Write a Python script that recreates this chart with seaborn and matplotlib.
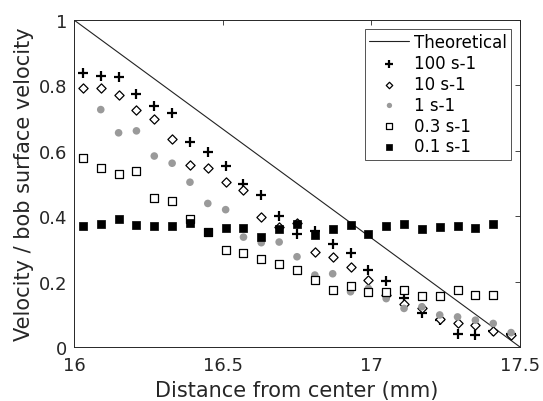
import numpy as np
import pandas as pd
import matplotlib
matplotlib.use("Agg")
import matplotlib.pyplot as plt
import seaborn as sns

nan = np.nan

# Distance from center (mm)
distance = [16.03, 16.09, 16.15, 16.21, 16.27, 16.33, 16.39, 16.45, 16.51, 16.57,
            16.63, 16.69, 16.75, 16.81, 16.87, 16.93, 16.99, 17.05, 17.11, 17.17,
            17.23, 17.29, 17.35, 17.41, 17.47]

v_100 = [0.838, 0.828, 0.825, 0.774, 0.738, 0.716, 0.628, 0.596, 0.553, 0.498,
         0.464, 0.402, 0.347, 0.355, 0.316, 0.288, 0.235, 0.201, 0.150, 0.104,
         0.082, 0.041, 0.036, 0.050, 0.040]
v_10 = [0.791, 0.791, 0.772, 0.726, 0.696, 0.637, 0.557, 0.547, 0.506, 0.479,
        0.398, 0.368, 0.378, 0.290, 0.275, 0.244, 0.206, 0.160, 0.130, 0.118,
        0.085, 0.072, 0.067, 0.048, 0.038]
v_1 = [nan, 0.726, 0.655, 0.661, 0.584, 0.562, 0.504, 0.439, 0.420, 0.336,
       0.319, 0.321, 0.276, 0.220, 0.224, 0.169, 0.179, 0.148, 0.118, 0.123,
       0.098, 0.092, 0.082, 0.072, 0.044]
v_03 = [0.578, 0.547, 0.529, 0.538, 0.455, 0.445, 0.392, 0.352, 0.298, 0.288,
        0.270, 0.253, 0.236, 0.205, 0.174, 0.186, 0.169, 0.168, 0.174, 0.157,
        0.157, 0.174, 0.159, 0.160, nan]
v_01 = [0.370, 0.377, 0.392, 0.372, 0.370, 0.370, 0.380, 0.352, 0.364, 0.364,
        0.337, 0.360, 0.375, 0.341, 0.362, 0.372, 0.347, 0.370, 0.377, 0.362,
        0.367, 0.370, 0.364, 0.375, nan]

theory_x = [16.0, 17.5]
theory_y = [1.0, 0.0]

labels = ["Theoretical", "100 s-1", "10 s-1", "1 s-1", "0.3 s-1", "0.1 s-1"]
xtick_vals = [16, 16.5, 17, 17.5]
xtick_labels = ["16", "16.5", "17", "17.5"]
ytick_vals = [0, 0.2, 0.4, 0.6, 0.8, 1]
ytick_labels = ["0", "0.2", "0.4", "0.6", "0.8", "1"]

sns.set_style("white")
plt.rcParams['font.family'] = ['DejaVu Sans']
TXT = "#262626"

fig = plt.figure(figsize=(5.43, 4.02), dpi=100)
ax = fig.add_axes([74/543, (402-348)/402, (520-74)/543, (348-21)/402])

sns.lineplot(x=theory_x, y=theory_y, ax=ax, color="#222222", linewidth=0.8,
             label=labels[0])

sns.scatterplot(x=distance, y=v_100, ax=ax, marker="+", color="black",
                s=60, linewidth=1.6, label=labels[1], zorder=3)
sns.scatterplot(x=distance, y=v_10, ax=ax, marker="D", facecolor="white",
                edgecolor="black", s=22, linewidth=0.9, label=labels[2], zorder=3)
sns.scatterplot(x=distance, y=v_1, ax=ax, marker="o", color="#9a9a9a",
                edgecolor="none", s=30, linewidth=0, label=labels[3], zorder=3)
sns.scatterplot(x=distance, y=v_03, ax=ax, marker="s", facecolor="white",
                edgecolor="black", s=30, linewidth=0.9, label=labels[4], zorder=3)
sns.scatterplot(x=distance, y=v_01, ax=ax, marker="s", color="black",
                edgecolor="black", s=30, linewidth=0.5, label=labels[5], zorder=3)

ax.set_xlim(16, 17.5)
ax.set_ylim(0, 1)
ax.set_xticks(xtick_vals)
ax.set_xticklabels(xtick_labels)
ax.set_yticks(ytick_vals)
ax.set_yticklabels(ytick_labels)
ax.tick_params(direction="in", length=3.5, width=0.6, colors=TXT,
               labelsize=13, top=True, right=True)
ax.tick_params(axis="x", pad=6.5)
ax.tick_params(axis="y", pad=5)
for sp in ax.spines.values():
    sp.set_visible(True)
    sp.set_color(TXT)
    sp.set_linewidth(0.7)

ax.set_xlabel("Distance from center (mm)", fontsize=15, color=TXT, labelpad=4.5)
ax.set_ylabel("Velocity / bob surface velocity", fontsize=15, color=TXT, labelpad=3)

leg = ax.legend(loc="upper right", bbox_to_anchor=(0.979, 0.972), borderaxespad=0,
                fancybox=False, frameon=True, edgecolor=TXT, fontsize=12,
                handlelength=2.4, handletextpad=0.25, labelspacing=0.17,
                markerscale=0.7, borderpad=0.25)
leg.get_frame().set_linewidth(0.7)
for t in leg.get_texts():
    t.set_color("black")

fig.savefig("out.png", dpi=100)
